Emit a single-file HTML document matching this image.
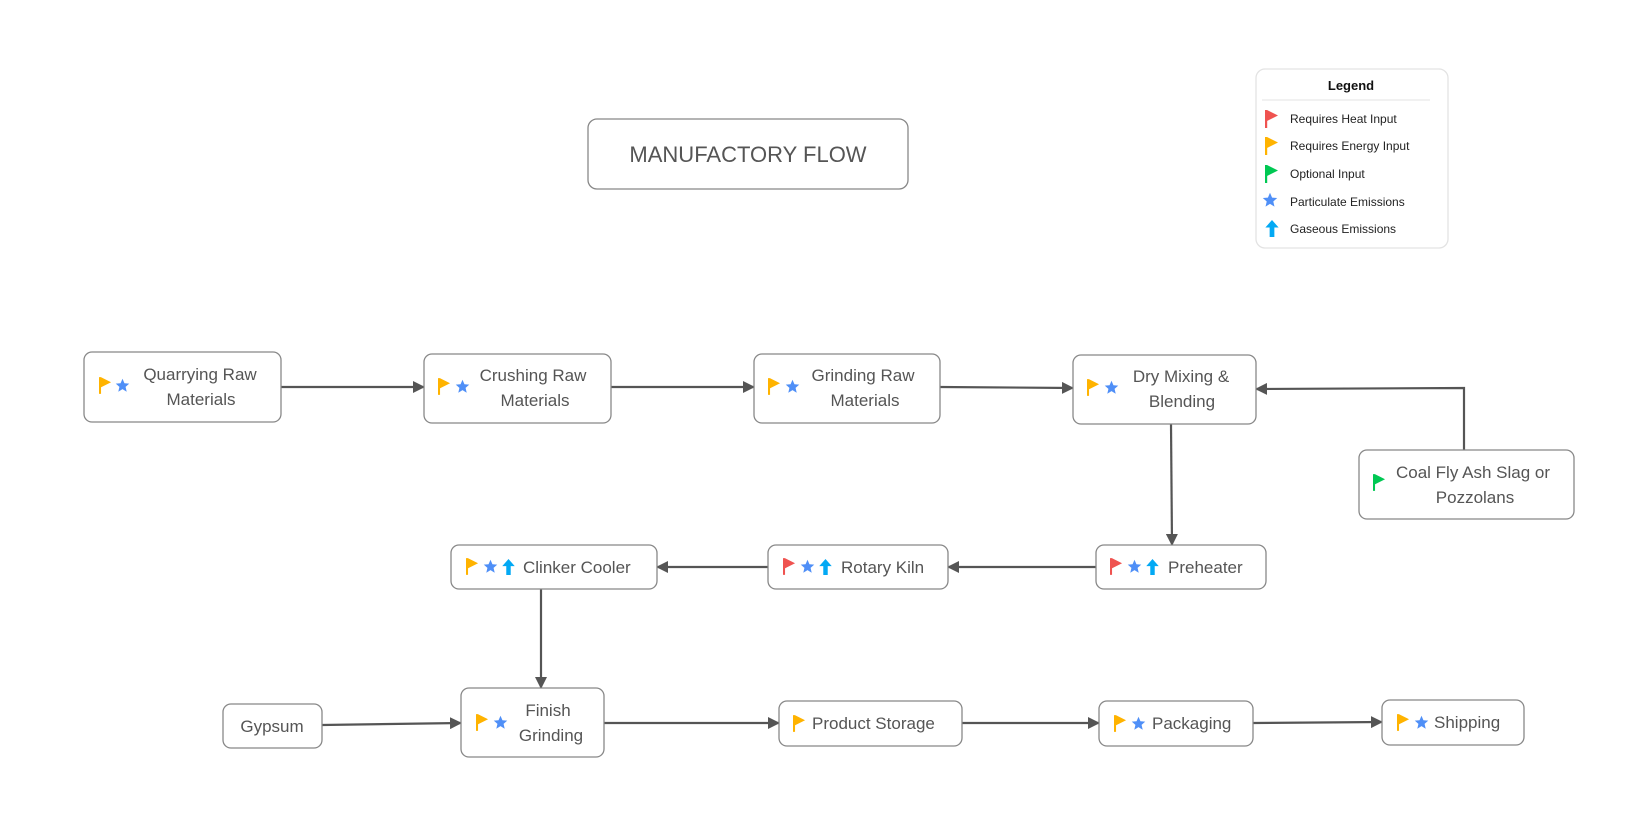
<!DOCTYPE html>
<html><head><meta charset="utf-8"><style>
html,body{margin:0;padding:0;background:#fff;}
svg{display:block;}
text{font-family:"Liberation Sans",sans-serif;}
.n{fill:#fff;stroke:#888;stroke-width:1.3;}
.t{font-size:17px;fill:#555;}
.e{stroke:#555;stroke-width:2.2;fill:none;}
.lg{font-size:12px;fill:#222;}
</style></head><body>
<svg width="1632" height="832" viewBox="0 0 1632 832" xmlns="http://www.w3.org/2000/svg">
<defs>
<symbol id="fr" viewBox="0 0 14 18"><rect x="0" y="0" width="2.2" height="18" fill="#ef5350"/><path d="M2 0 L13 5.5 L2 11Z" fill="#ef5350"/></symbol>
<symbol id="fo" viewBox="0 0 14 18"><rect x="0" y="0" width="2.2" height="18" fill="#ffb300"/><path d="M2 0 L13 5.5 L2 11Z" fill="#ffb300"/></symbol>
<symbol id="fg" viewBox="0 0 14 18"><rect x="0" y="0" width="2.2" height="18" fill="#00c853"/><path d="M2 0 L13 5.5 L2 11Z" fill="#00c853"/></symbol>
<symbol id="st" viewBox="0 0 20 20"><path d="M10 1 L12.6 7 L19 7.5 L14.1 11.8 L15.6 18.3 L10 14.8 L4.4 18.3 L5.9 11.8 L1 7.5 L7.4 7Z" fill="#4f8ff7"/></symbol>
<symbol id="ar" viewBox="0 0 14 18"><path d="M7 0 L14 8 L9.5 8 L9.5 18 L4.5 18 L4.5 8 L0 8Z" fill="#03a9f4"/></symbol>
<marker id="m" markerWidth="12" markerHeight="12" refX="11" refY="6" orient="auto" markerUnits="userSpaceOnUse"><path d="M0 0 L12 6 L0 12Z" fill="#555"/></marker>
</defs>

<rect x="588" y="119" width="320" height="70" rx="9" class="n"/>
<text x="748" y="162" text-anchor="middle" font-size="22" fill="#555">MANUFACTORY FLOW</text>

<rect x="1256" y="69" width="192" height="179" rx="9" fill="#fff" stroke="#e3e3e3" stroke-width="1.3"/>
<text x="1351" y="90" text-anchor="middle" font-size="13" font-weight="bold" fill="#111">Legend</text>
<line x1="1262" y1="100" x2="1430" y2="100" stroke="#e3e3e3"/>
<use href="#fr" x="1265" y="110" width="14" height="18"/><text x="1290" y="123" class="lg">Requires Heat Input</text>
<use href="#fo" x="1265" y="137" width="14" height="18"/><text x="1290" y="150" class="lg">Requires Energy Input</text>
<use href="#fg" x="1265" y="165" width="14" height="18"/><text x="1290" y="178" class="lg">Optional Input</text>
<use href="#st" x="1262" y="192" width="16" height="16"/><text x="1290" y="206" class="lg">Particulate Emissions</text>
<use href="#ar" x="1265" y="220" width="14" height="17"/><text x="1290" y="233" class="lg">Gaseous Emissions</text>

<path class="e" d="M281 387 L424 387" marker-end="url(#m)"/>
<path class="e" d="M611 387 L754 387" marker-end="url(#m)"/>
<path class="e" d="M940 387 L1073 388" marker-end="url(#m)"/>
<path class="e" d="M1464 450 L1464 388 L1256 389" marker-end="url(#m)"/>
<path class="e" d="M1171 424 L1172 545" marker-end="url(#m)"/>
<path class="e" d="M1096 567 L948 567" marker-end="url(#m)"/>
<path class="e" d="M768 567 L657 567" marker-end="url(#m)"/>
<path class="e" d="M541 589 L541 688" marker-end="url(#m)"/>
<path class="e" d="M322 725 L461 723" marker-end="url(#m)"/>
<path class="e" d="M604 723 L779 723" marker-end="url(#m)"/>
<path class="e" d="M962 723 L1099 723" marker-end="url(#m)"/>
<path class="e" d="M1253 723 L1382 722" marker-end="url(#m)"/>

<rect x="84" y="352" width="197" height="70" rx="8" class="n"/>
<use href="#fo" x="99" y="377" width="13" height="17"/><use href="#st" x="115" y="378" width="15" height="15"/>
<text x="200" y="380" text-anchor="middle" class="t">Quarrying Raw</text><text x="201" y="405" text-anchor="middle" class="t">Materials</text>

<rect x="424" y="354" width="187" height="69" rx="8" class="n"/>
<use href="#fo" x="438" y="378" width="13" height="17"/><use href="#st" x="455" y="379" width="15" height="15"/>
<text x="533" y="381" text-anchor="middle" class="t">Crushing Raw</text><text x="535" y="406" text-anchor="middle" class="t">Materials</text>

<rect x="754" y="354" width="186" height="69" rx="8" class="n"/>
<use href="#fo" x="768" y="378" width="13" height="17"/><use href="#st" x="785" y="379" width="15" height="15"/>
<text x="863" y="381" text-anchor="middle" class="t">Grinding Raw</text><text x="865" y="406" text-anchor="middle" class="t">Materials</text>

<rect x="1073" y="355" width="183" height="69" rx="8" class="n"/>
<use href="#fo" x="1087" y="379" width="13" height="17"/><use href="#st" x="1104" y="380" width="15" height="15"/>
<text x="1181" y="382" text-anchor="middle" class="t">Dry Mixing &amp;</text><text x="1182" y="407" text-anchor="middle" class="t">Blending</text>

<rect x="1359" y="450" width="215" height="69" rx="8" class="n"/>
<use href="#fg" x="1373" y="474" width="13" height="17"/>
<text x="1473" y="478" text-anchor="middle" class="t">Coal Fly Ash Slag or</text><text x="1475" y="503" text-anchor="middle" class="t">Pozzolans</text>

<rect x="1096" y="545" width="170" height="44" rx="8" class="n"/>
<use href="#fr" x="1110" y="558" width="13" height="17"/><use href="#st" x="1127" y="559" width="15" height="15"/><use href="#ar" x="1146" y="559" width="13" height="16"/>
<text x="1168" y="573" class="t">Preheater</text>

<rect x="768" y="545" width="180" height="44" rx="8" class="n"/>
<use href="#fr" x="783" y="558" width="13" height="17"/><use href="#st" x="800" y="559" width="15" height="15"/><use href="#ar" x="819" y="559" width="13" height="16"/>
<text x="841" y="573" class="t">Rotary Kiln</text>

<rect x="451" y="545" width="206" height="44" rx="8" class="n"/>
<use href="#fo" x="466" y="558" width="13" height="17"/><use href="#st" x="483" y="559" width="15" height="15"/><use href="#ar" x="502" y="559" width="13" height="16"/>
<text x="523" y="573" class="t">Clinker Cooler</text>

<rect x="461" y="688" width="143" height="69" rx="8" class="n"/>
<use href="#fo" x="476" y="714" width="13" height="17"/><use href="#st" x="493" y="715" width="15" height="15"/>
<text x="548" y="716" text-anchor="middle" class="t">Finish</text><text x="551" y="741" text-anchor="middle" class="t">Grinding</text>

<rect x="223" y="704" width="99" height="44" rx="8" class="n"/>
<text x="272" y="732" text-anchor="middle" class="t">Gypsum</text>

<rect x="779" y="701" width="183" height="45" rx="8" class="n"/>
<use href="#fo" x="793" y="715" width="13" height="17"/>
<text x="812" y="729" class="t">Product Storage</text>

<rect x="1099" y="701" width="154" height="45" rx="8" class="n"/>
<use href="#fo" x="1114" y="715" width="13" height="17"/><use href="#st" x="1131" y="716" width="15" height="15"/>
<text x="1152" y="729" class="t">Packaging</text>

<rect x="1382" y="700" width="142" height="45" rx="8" class="n"/>
<use href="#fo" x="1397" y="714" width="13" height="17"/><use href="#st" x="1414" y="715" width="15" height="15"/>
<text x="1434" y="728" class="t">Shipping</text>
</svg>
</body></html>
